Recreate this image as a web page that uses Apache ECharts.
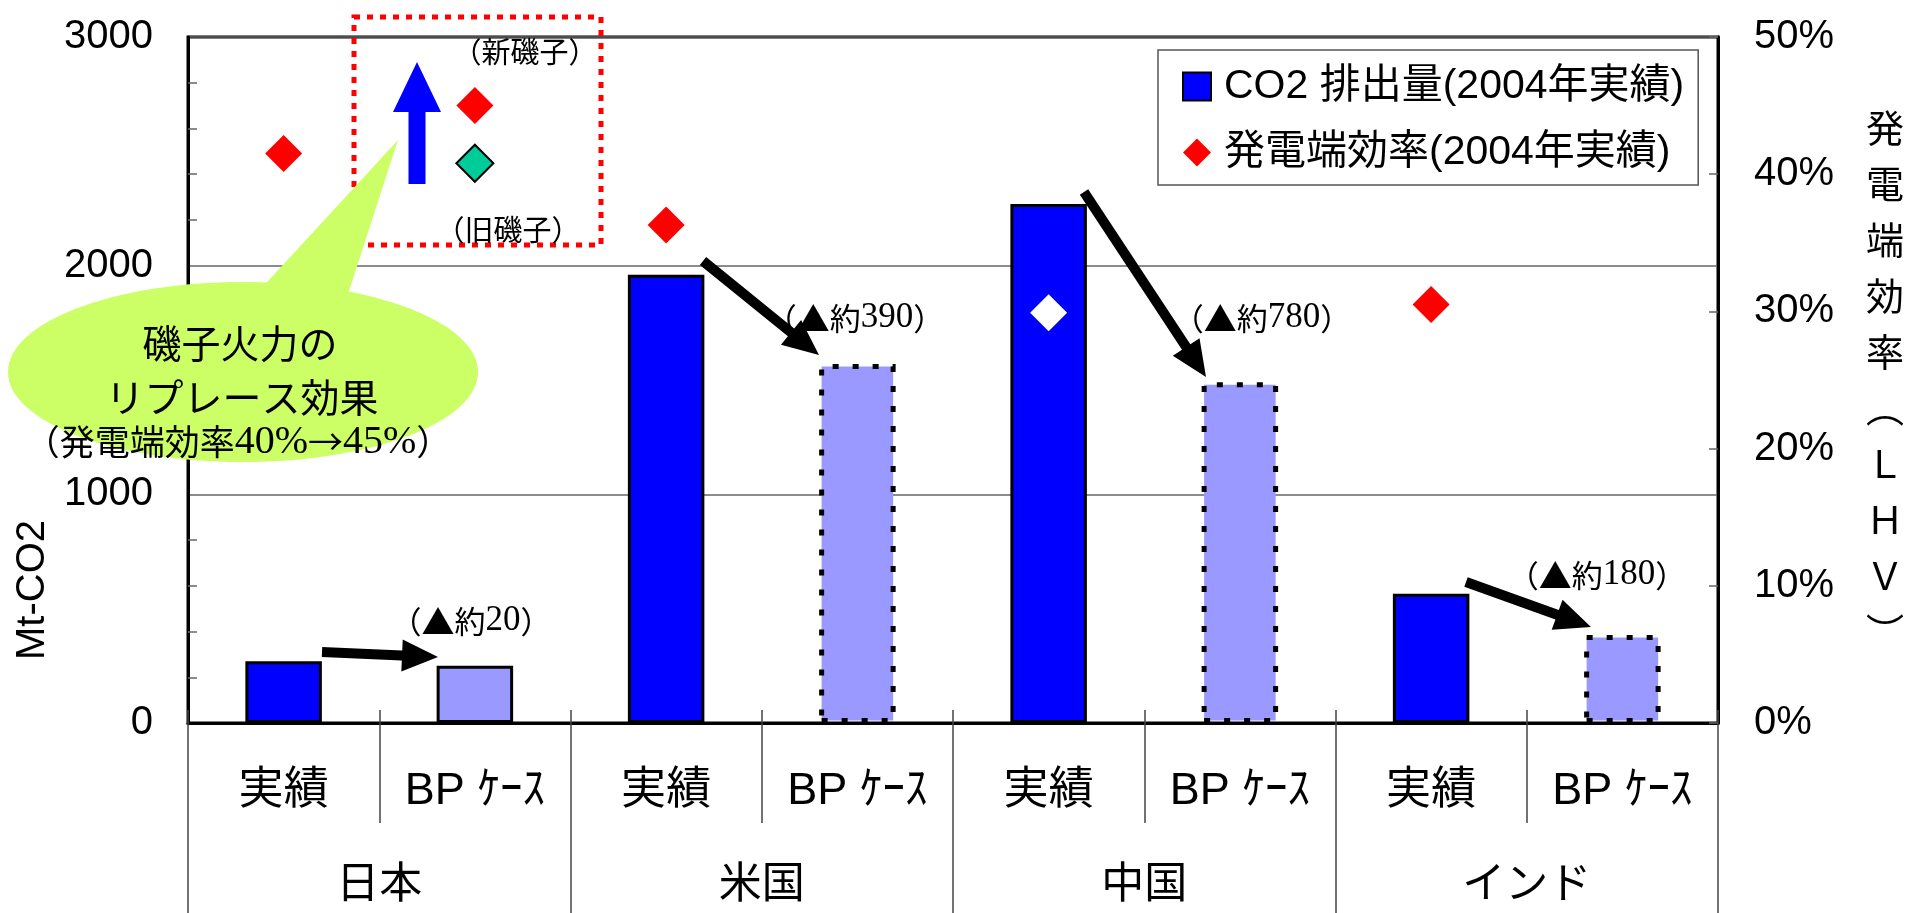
<!DOCTYPE html>
<html><head><meta charset="utf-8">
<script src="https://cdn.jsdelivr.net/npm/echarts@6/dist/echarts.min.js"></script>
<style>html,body{margin:0;padding:0;background:#fff;}#c{width:1908px;height:913px;}</style>
</head><body><div id="c"></div>
<script>
// ---- data ----
const countries = ['日本', '米国', '中国', 'インド'];
const subLabels = ['実績', 'BP ｹｰｽ', '実績', 'BP ｹｰｽ', '実績', 'BP ｹｰｽ', '実績', 'BP ｹｰｽ'];
const co2Actual = [270, 1960, 2270, 565];      // Mt-CO2, 2004 actual
const co2BP = [250, 1570, 1490, 385];          // Mt-CO2, BP case
const efficiency = [0.415, 0.363, 0.299, 0.305]; // 発電端効率 2004
const isogoNew = 0.450;
const isogoOld = 0.408;
const reductionValues = ['20', '390', '780', '180'];
const leftTicks = [0, 1000, 2000, 3000];
const rightTicks = [0, 0.1, 0.2, 0.3, 0.4, 0.5];

const SANS = "'Liberation Sans', 'Noto Sans CJK JP', sans-serif";
const CJK = "'Noto Sans CJK JP', sans-serif";
const SERIF = "'Liberation Serif', serif";
const BAR_NAME = 'CO2 排出量(2004年実績)';
const EFF_NAME = '発電端効率(2004年実績)';

// bars interleaved: actual, BP per country
const barData = [];
countries.forEach((c, i) => {
  barData.push({ value: co2Actual[i] });
  barData.push({
    value: co2BP[i],
    itemStyle: {
      color: '#9999FF', borderColor: '#000',
      borderWidth: i === 0 ? 3 : 5,
      borderType: i === 0 ? 'solid' : [6, 14]
    }
  });
});
const effData = efficiency.map((v, i) => ({
  value: [i * 2, v],
  itemStyle: i === 2 ? { color: '#FFFFFF', opacity: 1 } : undefined
}));

function arrowPts(x1, y1, x2, y2, w, hl, hw) {
  const dx = x2 - x1, dy = y2 - y1, L = Math.hypot(dx, dy);
  const ux = dx / L, uy = dy / L, px = -uy, py = ux;
  const bx = x2 - ux * hl, by = y2 - uy * hl;
  return [[x1 + px * w / 2, y1 + py * w / 2], [bx + px * w / 2, by + py * w / 2],
    [bx + px * hw / 2, by + py * hw / 2], [x2, y2], [bx - px * hw / 2, by - py * hw / 2],
    [bx - px * w / 2, by - py * w / 2], [x1 - px * w / 2, y1 - py * w / 2]];
}
function arrow(x1, y1, x2, y2, color, w, hl, hw) {
  return { type: 'polygon', z: 50, shape: { points: arrowPts(x1, y1, x2, y2, w, hl, hw) }, style: { fill: color } };
}
function txt(s, x, y, size, family, extra, rich) {
  const st = { text: s, x: 0, y: 0, fill: '#000', font: size + 'px ' + family,
    fontSize: size, fontFamily: family,
    textAlign: 'center', textVerticalAlign: 'middle', align: 'center', verticalAlign: 'middle' };
  if (rich) st.rich = rich;
  return Object.assign({ type: 'text', z: 60, x: x, y: y, style: st }, extra || {});
}
const annRich = {
  c: { fontFamily: CJK, fontSize: 31, fill: '#000', color: '#000' },
  t: { fontFamily: CJK, fontSize: 33, fill: '#000', color: '#000' },
  n: { fontFamily: SERIF, fontSize: 35, fill: '#000', color: '#000' }
};
function redLabel(v, x, y) {
  return txt('{c|（}{t|▲}{c|約}{n|' + v + '}{c|）}', x, y, 31, CJK, null, annRich);
}
const calloutRich = {
  c: { fontFamily: CJK, fontSize: 35, fill: '#000', color: '#000' },
  n: { fontFamily: SERIF, fontSize: 40, fill: '#000', color: '#000' }
};

const chart = echarts.init(document.getElementById('c'));
chart.setOption({
  animation: false,
  backgroundColor: '#fff',
  textStyle: { fontFamily: SANS },
  grid: { left: 188, right: 190, top: 37, bottom: 190, show: true, borderColor: '#000', borderWidth: 3, containLabel: false },
  legend: {
    left: 1158, top: 50, orient: 'vertical',
    data: [{ name: BAR_NAME, icon: 'rect' }, { name: EFF_NAME, icon: 'diamond' }],
    itemWidth: 28, itemHeight: 28, itemGap: 25,
    padding: [16, 14, 12, 24],
    borderColor: '#555', borderWidth: 1.5, backgroundColor: '#fff',
    textStyle: { fontSize: 41, color: '#000', fontFamily: SANS, lineHeight: 41, padding: [0, 0, 0, 8] }
  },
  xAxis: [
    {
      type: 'category', data: subLabels, position: 'bottom',
      axisLine: { show: true, lineStyle: { color: '#000', width: 3 } },
      axisTick: { show: true, interval: 0, length: 100, lineStyle: { color: '#444', width: 1.5 } },
      axisLabel: { interval: 0, fontSize: 45, margin: 46, color: '#000', fontFamily: SANS },
      splitLine: { show: false }
    },
    {
      type: 'category', data: countries, position: 'bottom',
      axisLine: { show: false },
      axisTick: { show: true, interval: 0, length: 190, lineStyle: { color: '#444', width: 1.5 } },
      axisLabel: { interval: 0, fontSize: 43, margin: 142, color: '#000', fontFamily: SANS },
      splitLine: { show: false }
    },
    {
      type: 'category', data: subLabels, position: 'bottom',
      axisLine: { show: false },
      axisTick: { show: true, inside: true, interval: 0, length: 13, lineStyle: { color: '#444', width: 1.5 } },
      axisLabel: { show: false }, splitLine: { show: false }
    }
  ],
  yAxis: [
    {
      type: 'value', min: leftTicks[0], max: leftTicks[leftTicks.length - 1], interval: 1000, position: 'left',
      axisLine: { show: true, lineStyle: { color: '#000', width: 3 } },
      axisTick: { show: false, inside: true, length: 9 },
      minorTick: { show: true, splitNumber: 5, length: 9, lineStyle: { color: '#666', width: 1.5 } },
      splitLine: { show: true, lineStyle: { color: '#666', width: 1.5 } },
      axisLabel: { fontSize: 40, margin: 35, color: '#000', fontFamily: SANS, formatter: v => String(v) }
    },
    {
      type: 'value', min: rightTicks[0], max: rightTicks[rightTicks.length - 1], interval: 0.1, position: 'right',
      axisLine: { show: true, lineStyle: { color: '#000', width: 3 } },
      axisTick: { show: true, inside: true, length: 9, lineStyle: { color: '#666', width: 1.5 } },
      splitLine: { show: false },
      axisLabel: { fontSize: 40, margin: 36, color: '#000', fontFamily: SANS,
        formatter: v => Math.round(v * 100) + '%' },
      name: '発\n電\n端\n効\n率\n︵\nＬ\nＨ\nＶ\n︶',
      nameLocation: 'middle', nameRotate: 0, nameGap: 167,
      nameTextStyle: { fontSize: 38, lineHeight: 56, color: '#000', align: 'center', verticalAlign: 'middle', fontFamily: CJK }
    }
  ],
  series: [
    {
      name: BAR_NAME, type: 'bar', xAxisIndex: 0, yAxisIndex: 0, barWidth: '40%',
      itemStyle: { color: '#0000FF', borderColor: '#000', borderWidth: 3 },
      data: barData, z: 2
    },
    {
      name: EFF_NAME, type: 'scatter', xAxisIndex: 0, yAxisIndex: 1,
      symbol: 'diamond', symbolSize: [37, 37],
      itemStyle: { color: '#FF0000', opacity: 1 }, data: effData, z: 5
    },
    {
      name: '磯子', type: 'scatter', xAxisIndex: 0, yAxisIndex: 1,
      symbol: 'diamond', symbolSize: [37, 37], z: 5,
      itemStyle: { opacity: 1 },
      data: [
        { value: [1, isogoNew], itemStyle: { color: '#FF0000', opacity: 1 } },
        { value: [1, isogoOld], itemStyle: { color: '#00CC99', borderColor: '#000', borderWidth: 2, opacity: 1 } }
      ]
    }
  ],
  graphic: [
    // Mt-CO2 axis title
    txt('Mt-CO2', 33, 590, 40, SANS, { rotation: Math.PI / 2 }),
    // red dotted box around Isogo
    { type: 'rect', z: 40, shape: { x: 354, y: 17, width: 247, height: 228 },
      style: { fill: 'none', stroke: '#FF0000', lineWidth: 5, lineDash: [6, 7] } },
    arrow(417, 184, 417, 62, '#0000FF', 17, 50, 48),
    txt('（新磯子）', 525, 52, 29, CJK),
    txt('（旧磯子）', 508, 230, 29, CJK),
    // callout
    { type: 'polygon', z: 55, shape: { points: [[258, 292], [398, 140], [348, 294]] }, style: { fill: '#CCFF66' } },
    { type: 'ellipse', z: 55, shape: { cx: 243, cy: 372, rx: 235, ry: 90 }, style: { fill: '#CCFF66' } },
    txt('磯子火力の', 240, 343, 39, CJK),
    txt('リプレース効果', 242, 397, 39, CJK),
    txt('{c|（発電端効率}{n|40%}{c|→}{n|45%}{c|）}', 238, 442, 35, CJK, null, calloutRich),
    // reduction arrows
    arrow(322, 652, 438, 657, '#000', 10, 36, 32),
    arrow(703, 261, 819, 355, '#000', 10, 36, 32),
    arrow(1084, 192, 1206, 377, '#000', 10, 36, 32),
    arrow(1466, 582, 1591, 627, '#000', 10, 36, 32),
    redLabel(reductionValues[0], 471, 621),
    redLabel(reductionValues[1], 855, 318),
    redLabel(reductionValues[2], 1262, 318),
    redLabel(reductionValues[3], 1597, 575)
  ]
});
</script></body></html>
